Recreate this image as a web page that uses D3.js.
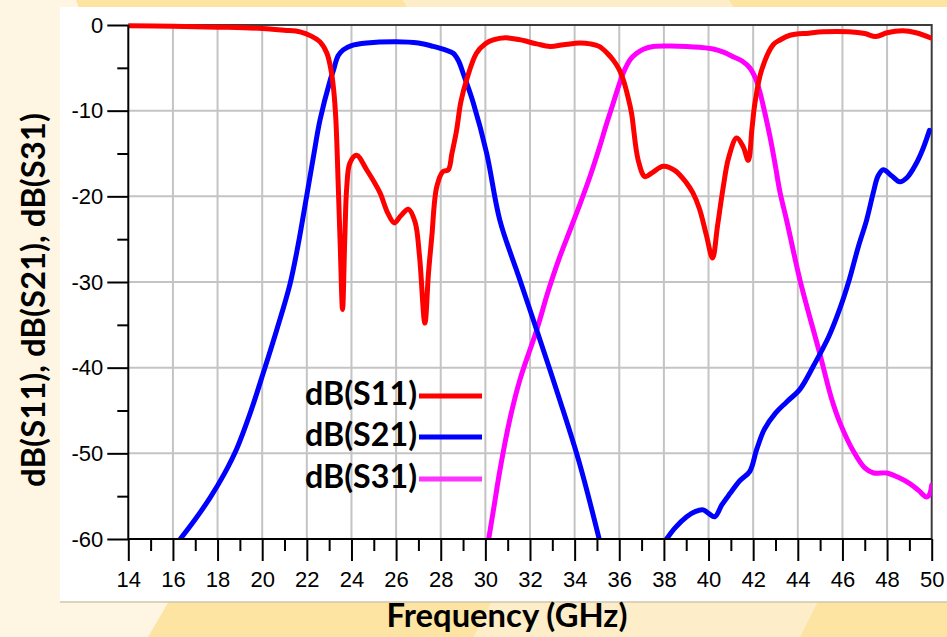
<!DOCTYPE html>
<html>
<head>
<meta charset="utf-8">
<script src="https://cdn.jsdelivr.net/npm/d3@7"></script>
<style>
html,body{margin:0;padding:0;background:#fef6e3;}
svg{display:block;}
</style>
</head>
<body>
<svg id="chart" width="947" height="637"></svg>
<script>
// ---------------- DATA ----------------
const xTicks = [14,16,18,20,22,24,26,28,30,32,34,36,38,40,42,44,46,48,50];
const yTicks = [0,-10,-20,-30,-40,-50,-60];
const xMinorTicks = [15,17,19,21,23,25,27,29,31,33,35,37,39,41,43,45,47,49];
const yMinorTicks = [-5,-15,-25,-35,-45,-55];
const seriesNames = ["dB(S11)","dB(S21)","dB(S31)"];
const xLabel = "Frequency (GHz)";
const yLabel = "dB(S11), dB(S21), dB(S31)";

const freqS11 = [14,16,18,20,21,21.7,22.2,22.6,22.9,23.1,23.2,23.3,23.41,23.5,23.6,23.7,23.79,23.93,24.23,24.68,25.28,25.6,25.92,26.2,26.55,26.85,27.05,27.29,27.45,27.6,27.82,28.1,28.34,28.5,28.71,28.9,29.16,29.6,30.0,30.35,30.9,31.5,32.3,32.9,33.5,34.24,34.7,35.1,35.5,35.73,36.0,36.18,36.4,36.55,36.85,37.15,37.5,37.97,38.5,39.0,39.3,39.6,39.9,40.18,40.4,40.66,40.9,41.26,41.55,41.78,41.95,42.08,42.38,42.9,43.2,43.65,44.5,45.14,46.3,47.0,47.5,48.0,48.7,49.3,50];
const valS11  = [-0.1,-0.15,-0.25,-0.4,-0.6,-0.8,-1.3,-2.0,-3.3,-5.5,-7.5,-11,-18.9,-26,-33.2,-25,-18.9,-16.1,-15.2,-16.9,-19.6,-21.8,-23.1,-22.3,-21.5,-23,-27,-34.8,-29,-24.7,-18.9,-17.1,-16.9,-15,-12.3,-9,-6.4,-3.3,-2.2,-1.75,-1.5,-1.7,-2.2,-2.5,-2.3,-2.1,-2.2,-2.5,-3.4,-4.1,-5.2,-6.4,-8.5,-10.3,-15.8,-17.7,-17.2,-16.5,-17.0,-18.4,-19.6,-21.5,-24.5,-27.2,-23.5,-18.9,-15.5,-13.2,-14.2,-15.8,-12,-9.1,-5.25,-2.3,-1.75,-1.2,-0.95,-0.8,-0.8,-1.0,-1.35,-0.9,-0.67,-0.9,-1.55];

const freqS21a = [16.33,17.0,17.66,18.3,18.87,19.45,20.05,20.65,21.24,21.6,21.99,22.3,22.59,23.04,23.19,23.4,23.63,24.0,24.68,26.0,27.0,27.67,28.2,28.56,28.8,29.0,29.46,30.06,30.65,31.5,32.3,33.3,34.2,35.1];
const valS21a  = [-60,-57.7,-55.2,-52.4,-49.4,-45.4,-40.6,-35.6,-30.3,-25.8,-20,-15.3,-11.1,-6.5,-5.3,-3.6,-2.9,-2.4,-2.1,-1.95,-2.1,-2.5,-2.9,-3.3,-4.2,-5.6,-9.1,-15,-22.8,-29.4,-35.6,-43.5,-51,-60];
const freqS21b = [38.12,38.5,39.02,39.4,39.76,40.0,40.28,40.6,40.96,41.4,41.85,42.15,42.5,43.0,43.5,44.1,44.7,45.4,45.9,46.3,46.7,47.08,47.38,47.6,47.83,48.2,48.57,48.9,49.3,49.6,49.9];
const valS21b  = [-60,-58.7,-57.4,-56.8,-56.6,-57.0,-57.4,-56,-54.7,-53.2,-52.1,-49.6,-47.2,-45.3,-44,-42.5,-39.8,-36.3,-33,-29.8,-26,-22.8,-19.6,-17.6,-16.9,-17.6,-18.3,-17.8,-16.2,-14.5,-12.3];

const freqS31 = [30.15,30.4,30.65,31.1,31.55,32.3,32.8,33.3,33.8,34.24,34.7,35.1,35.4,35.73,36.18,36.5,36.78,37.1,37.52,38.3,39.02,39.6,40.21,40.7,41.1,41.5,41.85,42.1,42.3,42.5,42.75,43.0,43.2,43.5,44.1,45.0,45.5,45.9,46.5,47.0,47.4,47.98,48.5,49.0,49.4,49.77,49.9,50.0];
const valS31  = [-60,-56,-52,-46,-41.4,-35.6,-31.2,-27.3,-23.9,-20.9,-17.6,-14.4,-11.8,-9.1,-5.6,-4.0,-3.3,-2.8,-2.5,-2.45,-2.5,-2.6,-2.8,-3.2,-3.7,-4.2,-5.0,-6.2,-7.8,-10,-13,-16.5,-19.5,-22.8,-29.8,-38.5,-43.5,-46.5,-49.8,-51.7,-52.3,-52.3,-52.8,-53.5,-54.3,-55.1,-54.8,-53.7];

// ---------------- LAYOUT ----------------
const svg = d3.select("#chart");
const W = 947, H = 637;
const plot = {left:128.3, right:931.7, top:25, bottom:539};

// background decoration (slide)
const bg = svg.append("g");
bg.append("rect").attr("width",W).attr("height",H).attr("fill","#fef6e3");
const bands = [
  {pts:[[76,0],[403,0],[408,8],[79,8]], c:"#fde4a2"},
  {pts:[[403,0],[729,0],[734,8],[408,8]], c:"#fdedc8"},
  {pts:[[729,0],[947,0],[947,8],[734,8]], c:"#fde4a2"},
  {pts:[[169,601],[492,601],[474,637],[148,637]], c:"#fde4a2"},
  {pts:[[492,601],[818,601],[800,637],[474,637]], c:"#fdedc8"},
  {pts:[[818,601],[947,601],[947,637],[800,637]], c:"#fde4a2"}
];
bg.selectAll("polygon").data(bands).join("polygon")
  .attr("points",d=>d.pts.map(p=>p.join(",")).join(" "))
  .attr("fill",d=>d.c);

// white panel
svg.append("rect").attr("x",60).attr("y",7).attr("width",887).attr("height",595)
  .attr("fill","#ffffff");
svg.append("line").attr("x1",60).attr("x2",947).attr("y1",602).attr("y2",602)
  .attr("stroke","#cfc6ae").attr("stroke-width",1.5);

const x = d3.scaleLinear().domain([14,50]).range([plot.left,plot.right]);
const y = d3.scaleLinear().domain([0,-60]).range([plot.top,plot.bottom]);

// grid
const grid = svg.append("g");
grid.selectAll("line.v").data(xTicks.slice(1,-1)).join("line")
  .attr("x1",d=>x(d)).attr("x2",d=>x(d)).attr("y1",plot.top).attr("y2",plot.bottom)
  .attr("stroke","#c4c4c4").attr("stroke-width",2);
grid.selectAll("line.h").data(yTicks.slice(1,-1)).join("line")
  .attr("x1",plot.left).attr("x2",plot.right).attr("y1",d=>y(d)).attr("y2",d=>y(d))
  .attr("stroke","#c4c4c4").attr("stroke-width",2);

// frame top/right
svg.append("path")
  .attr("d",`M${plot.left},${plot.top}H${plot.right}V${plot.bottom}`)
  .attr("fill","none").attr("stroke","#3c3c3c").attr("stroke-width",2);

// curves
svg.append("clipPath").attr("id","clip").append("rect")
  .attr("x",plot.left).attr("y",plot.top-4).attr("width",plot.right-plot.left).attr("height",plot.bottom-plot.top+4);
const line = d3.line().x(d=>x(d[0])).y(d=>y(d[1])).curve(d3.curveCatmullRom.alpha(0.5));
const curves = [
  {f:freqS11, v:valS11, c:"#ff0000"},
  {f:freqS21a, v:valS21a, c:"#0000ff"},
  {f:freqS21b, v:valS21b, c:"#0000ff"},
  {f:freqS31, v:valS31, c:"#ff00ff"}
];
const cg = svg.append("g").attr("clip-path","url(#clip)");
[3,1,2,0].forEach(i=>{
  const s = curves[i];
  cg.append("path").datum(s.f.map((f,k)=>[f,s.v[k]]))
    .attr("d",line).attr("fill","none").attr("stroke",s.c)
    .attr("stroke-width",5).attr("stroke-linejoin","round").attr("stroke-linecap","round");
});

// axes
const tickFont = "'Liberation Sans', Arial, sans-serif";
const fmt = d => String(d);
const gy = svg.append("g").attr("transform",`translate(${plot.left},0)`)
  .call(d3.axisLeft(y).tickValues(yTicks).tickSize(21).tickPadding(4).tickFormat(fmt));
const gym = svg.append("g").attr("transform",`translate(${plot.left},0)`)
  .call(d3.axisLeft(y).tickValues(yMinorTicks).tickSize(11).tickFormat(""));
const gx = svg.append("g").attr("transform",`translate(0,${plot.bottom})`)
  .call(d3.axisBottom(x).tickValues(xTicks).tickSize(22).tickFormat(fmt));
const gxm = svg.append("g").attr("transform",`translate(0,${plot.bottom})`)
  .call(d3.axisBottom(x).tickValues(xMinorTicks).tickSize(12).tickFormat(""));
[gy,gym,gx,gxm].forEach(g=>{
  g.select(".domain").attr("stroke","#000").attr("stroke-width",2);
  g.selectAll(".tick line").attr("stroke","#000").attr("stroke-width",2);
  g.selectAll("text").attr("font-family",tickFont).attr("font-size",22).attr("fill","#000");
});
gx.selectAll(".tick text").attr("y",48).attr("dy",null);
gx.select(".domain").attr("d",`M${plot.left},0H${plot.right}`);
gxm.select(".domain").remove();
gym.select(".domain").remove();
gy.select(".domain").attr("d",`M0,${plot.top}V${plot.bottom}`);

// text fitting helper
const titleFont = "Lato, 'Open Sans', sans-serif";
function fit(sel, target){
  const len = sel.node().getComputedTextLength();
  const fs = +sel.attr("font-size");
  sel.attr("font-size", fs*target/len);
  return sel;
}

// axis labels
const xl = svg.append("text").attr("x",507).attr("y",627).attr("text-anchor","middle")
  .attr("font-family",titleFont).attr("font-weight","bold").attr("font-size",26).text(xLabel);
fit(xl,241);
const yl = svg.append("text").attr("transform","translate(45,300) rotate(-90)").attr("text-anchor","middle")
  .attr("font-family",titleFont).attr("font-weight","bold").attr("font-size",24).text(yLabel);
fit(yl,374);

// legend
const legY = [405,446,488];
const legColors = ["#ff0000","#0000ff","#ff33ff"];
seriesNames.forEach((n,i)=>{
  const t = svg.append("text").attr("x",305).attr("y",legY[i])
    .attr("font-family",titleFont).attr("font-weight","bold").attr("font-size",28).text(n);
  fit(t,112);
  svg.append("line").attr("x1",419).attr("x2",482).attr("y1",legY[i]-9).attr("y2",legY[i]-9)
    .attr("stroke",legColors[i]).attr("stroke-width",5);
});
</script>
</body>
</html>
